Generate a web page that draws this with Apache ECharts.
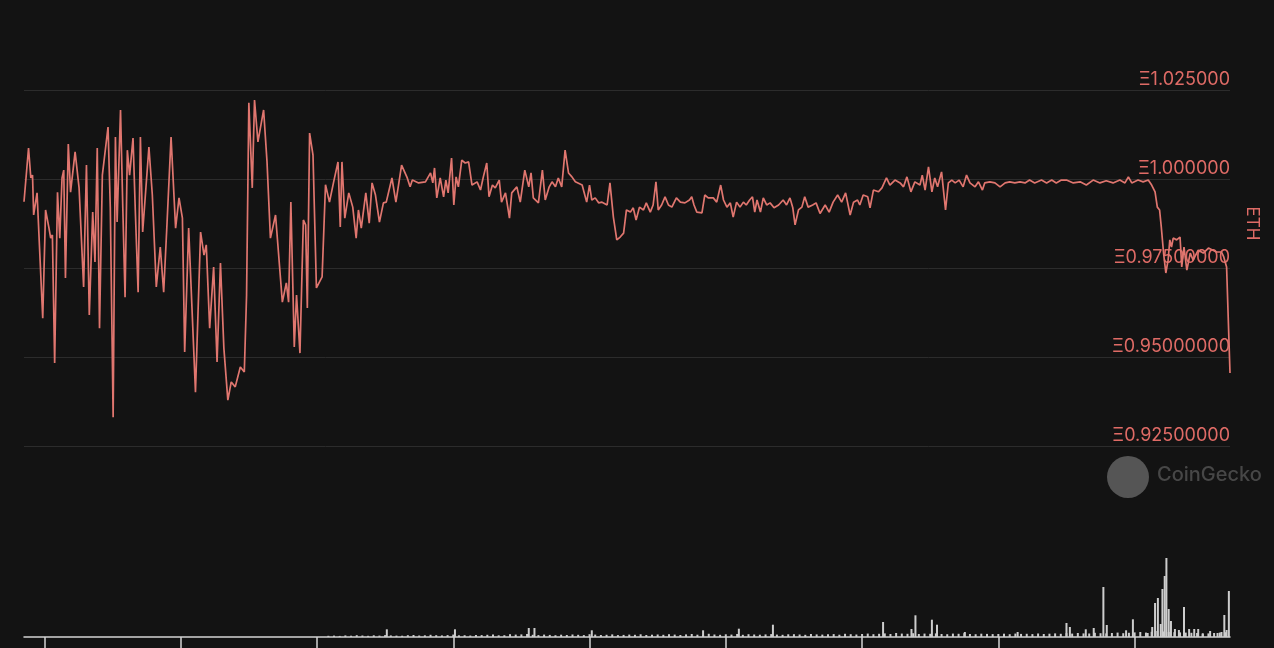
<!DOCTYPE html>
<html><head><meta charset="utf-8">
<script src="https://cdn.jsdelivr.net/npm/echarts@6/dist/echarts.min.js"></script>
<style>html,body{margin:0;padding:0;background:#131313;}#c{width:1274px;height:648px;}</style>
</head><body><div id="c"></div>
<script>
// price in ETH: [hour, price]
const price = [
[20.4,0.9936],[21.2,1.0087],[21.6,1.0003],[21.9,1.0011],[22.1,0.9899],[22.7,0.9961],[23.0,0.9956],[23.7,0.9609],[24.2,0.9913],[24.8,0.9862],[25.1,0.9834],[25.4,0.9843],[25.8,0.9483],[26.3,0.9963],[26.7,0.9834],[27.1,1.0003],[27.4,1.0025],[27.7,0.9722],[28.2,1.0098],[28.6,0.9963],[29.4,1.0076],[30.1,0.9975],[30.9,0.9697],[31.4,1.0039],[31.9,0.9618],[32.5,0.9907],[32.9,0.9767],[33.3,1.0087],[33.7,0.9581],[34.2,1.0011],[35.2,1.0146],[35.6,0.9919],[36.1,0.9331],[36.5,1.0118],[36.8,0.9879],[37.4,1.0194],[37.8,0.9919],[38.2,0.9668],[38.6,1.0081],[39.0,1.0011],[39.6,1.0115],[40.0,0.9913],[40.5,0.9682],[40.9,1.0118],[41.3,0.9851],[42.4,1.0090],[43.0,0.9955],[43.7,0.9697],[44.4,0.9809],[45.0,0.9682],[45.6,0.9879],[46.3,1.0118],
[47.1,0.9862],[47.7,0.9947],[48.3,0.9890],[48.7,0.9514],[49.4,0.9862],[50.6,0.9401],[51.5,0.9851],[52.1,0.9786],[52.5,0.9815],[53.1,0.9581],[53.8,0.9753],[54.4,0.9486],[55.0,0.9764],[55.6,0.9525],[56.3,0.9379],[56.9,0.9430],[57.6,0.9416],[58.5,0.9472],[59.2,0.9458],[59.6,0.9674],[60.0,1.0214],[60.6,0.9975],[61.0,1.0222],[61.6,1.0104],[62.6,1.0194],[63.2,1.0048],[63.8,0.9834],[64.7,0.9899],[65.9,0.9654],[66.6,0.9708],[67.0,0.9654],[67.4,0.9935],[68.0,0.9528],[68.4,0.9674],[69.0,0.9511],[69.6,0.9885],[70.0,0.9871],[70.3,0.9638],[70.7,1.0129],[71.3,1.0067],[71.9,0.9694],[72.9,0.9725],[73.5,0.9984],
[74.2,0.9935],[74.9,0.9989],[75.7,1.0048],[76.1,0.9865],[76.4,1.0048],[76.9,0.9890],[77.6,0.9961],[78.3,0.9921],[78.9,0.9834],[79.3,0.9913],[79.8,0.9862],[80.6,0.9961],[81.2,0.9876],[81.7,0.9989],[82.3,0.9955],[83.0,0.9879],[83.7,0.9933],[84.2,0.9935],[85.2,1.0003],[85.9,0.9935],[86.9,1.0039],[87.9,1.0003],[88.4,0.9978],[88.8,0.9997],[89.9,0.9989],[91.1,0.9992],[92.0,1.0017],[92.4,0.9989],[92.7,1.0031],[93.1,0.9947],[93.7,1.0003],[94.3,0.9950],[94.7,0.9997],[95.1,0.9961],[95.7,1.0059],[96.1,0.9927],[96.5,1.0006],[96.9,0.9978],[97.5,1.0053],[98.1,1.0045],[98.7,1.0048],[99.3,0.9983],[100.2,0.9992],[100.8,0.9969],[101.3,1.0006],[101.9,1.0045],[102.3,0.9950],[102.9,0.9983],[103.4,0.9975],[104.1,0.9997],[104.5,0.9935],[105.2,0.9961],[105.9,0.9890],[106.3,0.9961],[107.2,0.9978],[107.8,0.9935],[108.6,1.0025],[109.3,0.9978],[109.7,1.0017],[110.1,0.9947],[111.0,0.9933],[111.7,1.0025],[112.2,0.9941],[112.9,0.9978],[113.4,0.9992],[114.0,0.9978],[114.5,1.0003],[115.1,0.9978],[115.7,1.0081],[116.3,1.0017],[116.9,1.0006],[117.5,0.9992],
[118.7,0.9983],[119.5,0.9935],[120.0,0.9983],[120.4,0.9941],[121.0,0.9947],[121.6,0.9933],[122.2,0.9935],[123.1,0.9927],[123.6,0.9989],[124.2,0.9893],[124.8,0.9829],[125.4,0.9837],[126.0,0.9848],[126.5,0.9913],[127.2,0.9907],[127.7,0.9919],[128.2,0.9885],[128.8,0.9921],[129.5,0.9913],[130.0,0.9933],[130.7,0.9907],[131.2,0.9927],[131.7,0.9992],[132.1,0.9913],[132.7,0.9927],[133.3,0.9950],[133.9,0.9927],[134.5,0.9921],[135.3,0.9947],[136.0,0.9935],[136.8,0.9933],[137.6,0.9941],[138.0,0.9950],[138.4,0.9927],[138.9,0.9907],[139.8,0.9905],[140.3,0.9955],[140.9,0.9947],[141.8,0.9947],[142.4,0.9935],[143.1,0.9983],[143.6,0.9941],[144.2,0.9921],[144.8,0.9933],[145.3,0.9893],[145.9,0.9935],[146.5,0.9921],[147.1,0.9935],[147.6,0.9927],[148.2,0.9941],[148.7,0.9950],[149.1,0.9907],[149.5,0.9941],[150.1,0.9907],[150.6,0.9947],[151.2,0.9927],[151.8,0.9933],[152.5,0.9919],[153.3,0.9927],[154.1,0.9941],[154.7,0.9927],[155.3,0.9947],[155.8,0.9919],[156.2,0.9871],[156.8,0.9913],[157.4,0.9921],[157.9,0.9950],[158.5,0.9921],[159.3,0.9927],[159.9,0.9933],[160.6,0.9903],
[161.5,0.9927],[162.2,0.9907],[162.9,0.9935],[163.7,0.9955],[164.4,0.9935],[165.1,0.9961],[165.9,0.9899],[166.5,0.9935],[167.2,0.9941],[167.6,0.9927],[168.2,0.9955],[169.0,0.9950],[169.4,0.9919],[170.0,0.9969],[170.9,0.9964],[171.5,0.9975],[172.3,1.0003],[172.9,0.9983],[173.8,0.9997],[174.7,0.9989],[175.3,0.9978],[175.9,1.0006],[176.6,0.9964],[177.3,0.9992],[178.2,0.9983],[178.6,1.0011],[179.1,0.9969],[179.7,1.0034],[180.3,0.9964],[180.8,1.0003],[181.3,0.9978],[182.0,1.0020],[182.7,0.9913],[183.2,0.9989],[183.8,0.9997],[184.4,0.9989],[185.1,0.9997],[185.8,0.9978],[186.4,1.0011],[187.0,0.9989],[187.9,0.9978],[188.5,0.9992],[189.2,0.9969],[189.6,0.9989],[190.5,0.9992],[191.4,0.9989],[192.3,0.9978],[193.2,0.9989],[194.0,0.9992],[194.9,0.9989],[195.8,0.9992],[196.7,0.9989],[197.5,0.9997],[198.4,0.9989],[199.6,0.9997],[200.5,0.9989],[201.4,0.9997],[202.2,0.9989],[203.1,0.9997],
[204.0,0.9997],[205.2,0.9989],[206.4,0.9992],[207.5,0.9983],[208.7,0.9997],[209.9,0.9989],[211.0,0.9995],[212.2,0.9989],[213.4,0.9997],[214.3,0.9989],[214.9,1.0006],[215.5,0.9989],[216.6,0.9997],[217.5,0.9992],[218.4,0.9997],[219.0,0.9983],[219.6,0.9964],[220.0,0.9921],[220.4,0.9913],[220.7,0.9865],[221.1,0.9792],[221.5,0.9736],[221.9,0.9772],[222.2,0.9829],[222.5,0.9809],[222.8,0.9834],[223.4,0.9829],[224.0,0.9837],[224.3,0.9753],[224.7,0.9809],[225.2,0.9744],[225.8,0.9792],[226.3,0.9772],[227.2,0.9800],[228.1,0.9792],[229.0,0.9806],[229.8,0.9800],[230.4,0.9795],[231.3,0.9795],[231.7,0.9781],[232.2,0.9753],[232.5,0.9604],[232.8,0.9455]
];
// hourly base volume starting at hour 74
const volumeStartHour = 74;
const volumeHourly = [
60,70,55,80,65,90,75,60,85,70,
95,80,70,65,90,100,75,85,110,90,80,95,
120,85,90,75,100,95,110,130,85,90,140,120,
130,150,110,95,120,105,90,115,100,125,110,95,
140,120,100,110,130,95,105,120,110,135,100,115,
125,110,140,120,100,130,150,115,105,160,125,110,
135,120,150,110,140,125,115,130,145,120,110,135,
140,125,110,150,130,120,135,145,115,160,140,125,
150,170,140,160,180,150,200,170,160,190,150,170,
160,180,150,140,170,160,190,150,140,165,155,145,
150,165,140,170,155,160,145,175,150,165,180,160,
190,170,200,180,175,210,190,180,200,220,190,210,
230,250,220,260,300,280,250,240,230,220,210,200,
190,180,200,220,240
];
// volume spikes: [hour, volume]
const volumeSpikes = [
[84.3,385],[96.3,385],[109.3,450],[110.3,450],[120.4,335],[140.0,335],[146.3,415],[152.3,615],
[171.7,750],[176.7,400],[177.4,1085],[180.3,865],[181.2,615],[186.1,250],[195.4,250],
[204.0,700],[204.6,500],[207.4,385],[208.8,450],[210.5,2500],[211.1,600],[214.5,335],[215.7,885],
[218.3,200],[219.1,500],[219.6,1700],[220.1,1950],[220.6,650],[220.9,2400],[221.3,3050],[221.6,3950],
[222.0,1400],[222.4,800],[223.1,400],[223.8,350],[224.7,1500],[225.6,400],[226.5,400],[227.2,400],
[228.0,150],[229.3,300],[230.6,200],[231.3,250],[231.8,1100],[232.2,350],[232.6,2300]
];
const tickHours = [24,48,72,96,120,144,168,192,216];
const xMin = 20.4, xMax = 232.8;
const yMin = 0.925, yMax = 1.05, yStep = 0.025;

const volumeData = volumeHourly.map((v,i)=>[volumeStartHour+i, v]).concat(volumeSpikes).sort((a,b)=>a[0]-b[0]);

const red = '#df6b66';
const chart = echarts.init(document.getElementById('c'), null, {renderer:'canvas'});
chart.setOption({
  backgroundColor:'#131313',
  animation:false,
  grid:[
    {left:24, right:44, top:1, bottom:202, containLabel:false, outerBoundsMode:'none'},
    {left:24, right:44, bottom:11, height:80, containLabel:false, outerBoundsMode:'none'}
  ],
  xAxis:[
    {gridIndex:0, type:'value', min:xMin, max:xMax, show:false},
    {gridIndex:1, type:'value', min:xMin, max:xMax,
     axisLine:{show:true, lineStyle:{color:'#d4d4d4', width:1.5}},
     axisTick:{show:true, customValues:tickHours, length:12, lineStyle:{color:'#d4d4d4', width:1.5}},
     axisLabel:{show:false}, splitLine:{show:false}}
  ],
  yAxis:[
    {gridIndex:0, type:'value', position:'right', min:yMin, max:yMax, interval:yStep,
     axisLine:{show:false}, axisTick:{show:false},
     splitLine:{show:true, showMaxLine:false, lineStyle:{color:'#2c2c2c', width:1}},
     axisLabel:{inside:true, margin:0, align:'right', verticalAlign:'bottom', color:red,
       fontSize:18, fontFamily:'Inter', lineHeight:20,
       formatter:v=>{const r=Math.round(v*1000)/1000; return 'Ξ'+(r>=1? r.toFixed(6): r.toFixed(8));}},
     name:'ETH', nameLocation:'middle', nameRotate:-90, nameGap:14,
     nameTextStyle:{color:red, fontSize:17, fontFamily:'Inter'}},
    {gridIndex:1, type:'value', min:0, max:4000, show:false}
  ],
  graphic:[
    {type:'circle', shape:{cx:1128, cy:477, r:21}, style:{fill:'#555555'}, z:1},
    {type:'text', left:1157, top:465, style:{text:'CoinGecko', fill:'#474747', font:'500 20px Inter'}, z:1}
  ],
  series:[
    {type:'line', xAxisIndex:0, yAxisIndex:0, data:price, showSymbol:false,
     lineStyle:{color:'#e0766f', width:1.7}, z:3},
    {type:'bar', xAxisIndex:1, yAxisIndex:1, data:volumeData, barWidth:2,
     itemStyle:{color:'#cdcdcd'}, z:2}
  ]
});
</script></body></html>
